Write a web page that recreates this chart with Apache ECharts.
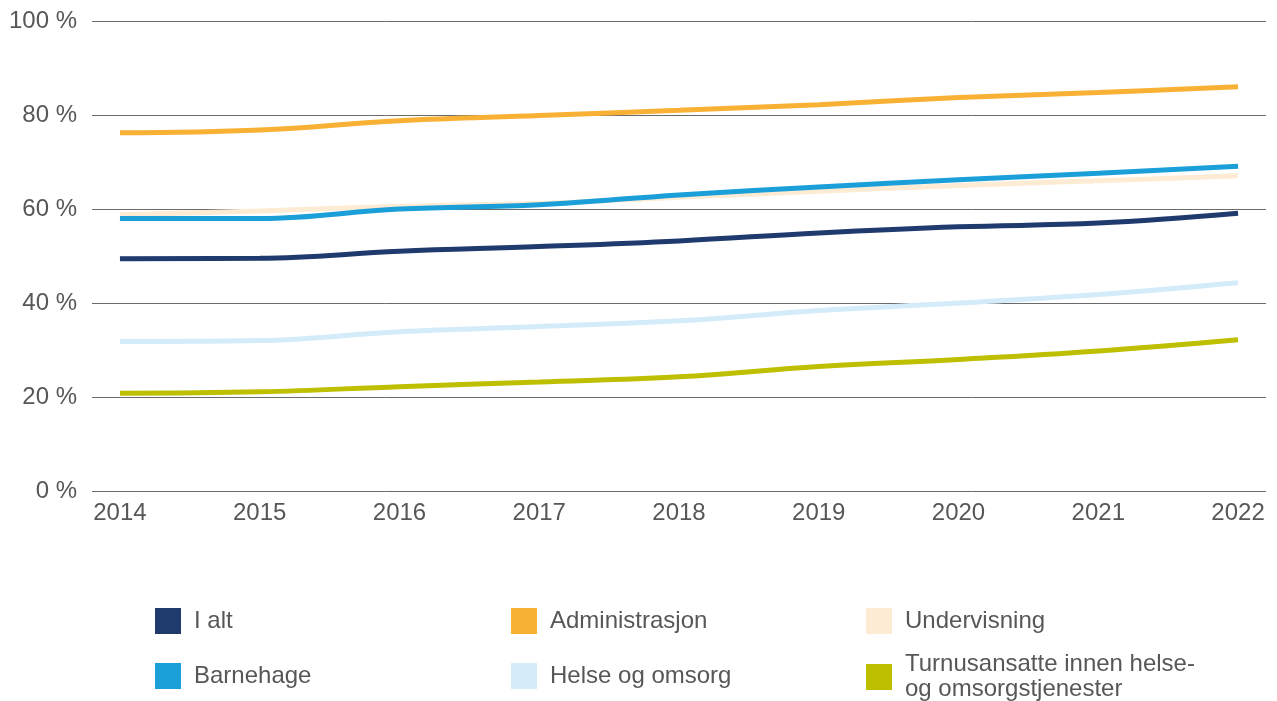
<!DOCTYPE html>
<html>
<head>
<meta charset="utf-8">
<script src="https://cdn.jsdelivr.net/npm/echarts@6/dist/echarts.min.js"></script>
<style>
  html, body { margin: 0; padding: 0; background: #ffffff; }
  #chart { width: 1277px; height: 701px; }
</style>
</head>
<body>
<div id="chart"></div>
<script>
// Years on the horizontal axis
const years = [2014, 2015, 2016, 2017, 2018, 2019, 2020, 2021, 2022];

// Share (%) per group and year
const iAlt           = [49.4, 49.5, 51.0, 52.0, 53.2, 54.9, 56.2, 57.0, 59.1];
const administrasjon = [76.2, 76.8, 78.8, 79.9, 81.0, 82.2, 83.7, 84.8, 86.0];
const undervisning   = [58.8, 59.6, 60.6, 61.2, 62.5, 63.8, 65.0, 66.0, 67.1];
const barnehage      = [58.0, 58.0, 60.0, 60.9, 63.0, 64.7, 66.2, 67.6, 69.1];
const helseOmsorg    = [31.8, 32.0, 33.9, 35.0, 36.2, 38.4, 40.0, 41.8, 44.3];
const turnus         = [20.8, 21.1, 22.2, 23.2, 24.3, 26.5, 28.0, 29.8, 32.2];

// Y-axis ticks
const yTicks = [0, 20, 40, 60, 80, 100];

const FONT = '"Helvetica Neue", Helvetica, "Liberation Sans", Arial, sans-serif';
const TEXT = '#575757';

// Drawing order: later entries sit on top
const groups = [
  { name: 'Undervisning', values: undervisning, color: '#fdebd4' },
  { name: 'Helse og omsorg', values: helseOmsorg, color: '#d4ebfa' },
  { name: 'Turnusansatte innen helse-\nog omsorgstjenester', values: turnus, color: '#bdbf00' },
  { name: 'I alt', values: iAlt, color: '#1f3a6d' },
  { name: 'Barnehage', values: barnehage, color: '#1b9fd9' },
  { name: 'Administrasjon', values: administrasjon, color: '#f8b134' }
];

// Legend slots (3 columns x 2 rows)
const legendSlots = {
  'I alt': [155, 608],
  'Administrasjon': [511, 608],
  'Undervisning': [866, 608],
  'Barnehage': [155, 663],
  'Helse og omsorg': [511, 663],
  'Turnusansatte innen helse-\nog omsorgstjenester': [866, 652]
};

const series = groups.map(g => ({
  name: g.name,
  type: 'line',
  data: years.map((y, i) => [y, g.values[i]]),
  smooth: 0.4,
  symbol: 'none',
  lineStyle: { width: 5, color: g.color, cap: 'butt' },
  itemStyle: { color: g.color },
  emphasis: { disabled: true }
}));

const legends = groups.map(g => ({
  data: [{ name: g.name, icon: 'rect' }],
  left: legendSlots[g.name][0],
  top: legendSlots[g.name][1],
  padding: 0,
  itemWidth: 26,
  itemHeight: 26,
  selectedMode: false,
  textStyle: {
    fontFamily: FONT,
    fontSize: 24,
    lineHeight: 25,
    color: TEXT,
    padding: [0, 0, 0, 8]
  }
}));

const chart = echarts.init(document.getElementById('chart'), null, { renderer: 'canvas' });
chart.setOption({
  animation: false,
  backgroundColor: '#ffffff',
  grid: { left: 92, right: 11, top: 21, bottom: 210, containLabel: false },
  legend: legends,
  xAxis: {
    type: 'value',
    min: years[0] - 0.2,
    max: years[years.length - 1] + 0.2,
    axisLine: { show: false },
    axisTick: { show: false },
    splitLine: { show: false },
    axisLabel: {
      customValues: years,
      formatter: v => String(v),
      fontFamily: FONT,
      fontSize: 24,
      color: TEXT,
      margin: 10
    }
  },
  yAxis: {
    type: 'value',
    min: yTicks[0],
    max: yTicks[yTicks.length - 1],
    interval: 20,
    axisLine: { show: false },
    axisTick: { show: false },
    splitLine: { show: true, lineStyle: { color: '#6a6a6a', width: 1 } },
    axisLabel: {
      formatter: v => v + ' %',
      fontFamily: FONT,
      fontSize: 24,
      color: TEXT,
      margin: 15
    }
  },
  series: series
});
</script>
</body>
</html>
